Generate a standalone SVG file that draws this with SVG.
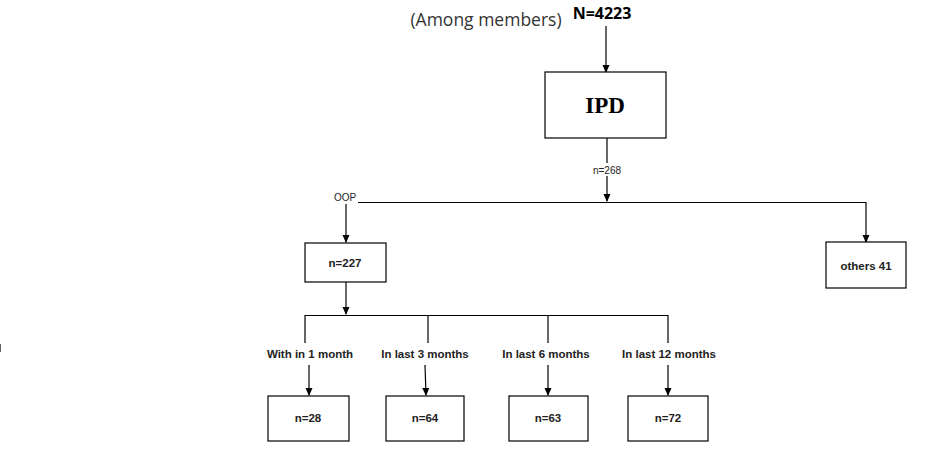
<svg xmlns="http://www.w3.org/2000/svg" width="926" height="465" viewBox="0 0 926 465">
<style>
.box{fill:#fff;stroke:#000;stroke-width:1.2}
.ln{fill:none;stroke:#000;stroke-width:1.2}
.lbl{font-family:"Liberation Sans",Arial,sans-serif;font-size:11.5px;font-weight:bold;fill:#222;text-anchor:middle;dominant-baseline:central}
.sm{font-family:"Liberation Sans",Arial,sans-serif;font-size:10px;fill:#222;text-anchor:middle;dominant-baseline:central}
</style>
<defs>
<marker id="ah" markerWidth="8" markerHeight="8" refX="7" refY="4" orient="auto" markerUnits="userSpaceOnUse">
<path d="M0,0.5 L8,4 L0,7.5 Z" fill="#000"/>
</marker>
</defs>
<rect width="926" height="465" fill="#fff"/>
<g id="title">
<text x="486" y="19" font-family="'Open Sans','Noto Sans',sans-serif" font-size="17.5" fill="#333" text-anchor="middle" dominant-baseline="central">(Among members)</text>
<text x="602" y="13" font-family="'Open Sans','Noto Sans',sans-serif" font-size="16" font-weight="bold" fill="#000" text-anchor="middle" dominant-baseline="central">N=4223</text>
</g>
<g id="connectors">
<line class="ln" x1="606" y1="26" x2="606" y2="72" marker-end="url(#ah)"/>
<line class="ln" x1="607" y1="138" x2="607" y2="201" marker-end="url(#ah)"/>
<line class="ln" x1="358" y1="202.5" x2="866" y2="202.5"/>
<line class="ln" x1="866" y1="202" x2="866" y2="242" marker-end="url(#ah)"/>
<line class="ln" x1="346" y1="204" x2="346" y2="242" marker-end="url(#ah)"/>
<line class="ln" x1="346" y1="282" x2="346" y2="314" marker-end="url(#ah)"/>
<polyline class="ln" points="305,343 305,315.5 668,315.5 668,343"/>
<line class="ln" x1="428" y1="315" x2="428" y2="343"/>
<line class="ln" x1="548" y1="315" x2="548" y2="343"/>
<line class="ln" x1="309" y1="365" x2="309" y2="395" marker-end="url(#ah)"/>
<line class="ln" x1="425" y1="365" x2="426" y2="395" marker-end="url(#ah)"/>
<line class="ln" x1="548" y1="365" x2="548" y2="395" marker-end="url(#ah)"/>
<line class="ln" x1="668" y1="365" x2="668" y2="395" marker-end="url(#ah)"/>
<rect x="588" y="163" width="38" height="13" fill="#fff"/>
<text class="sm" x="607" y="170">n=268</text>
<text class="sm" x="345" y="197">OOP</text>
<text class="lbl" x="310" y="354">With in 1 month</text>
<text class="lbl" x="425" y="354">In last 3 months</text>
<text class="lbl" x="546" y="354">In last 6 months</text>
<text class="lbl" x="669" y="354">In last 12 months</text>
</g>
<g id="ipd">
<rect class="box" x="545" y="72" width="121" height="66"/>
<text x="605" y="105" font-family="'Liberation Serif','Times New Roman',serif" font-size="23" font-weight="bold" fill="#000" text-anchor="middle" dominant-baseline="central">IPD</text>
</g>
<g id="n227">
<rect class="box" x="305" y="243" width="81" height="39"/>
<text class="lbl" x="345" y="263">n=227</text>
</g>
<g id="others">
<rect class="box" x="826" y="242" width="80" height="46"/>
<text class="lbl" x="866" y="266">others 41</text>
</g>
<g id="n28">
<rect class="box" x="268" y="396" width="81" height="45"/>
<text class="lbl" x="308" y="418">n=28</text>
</g>
<g id="n64">
<rect class="box" x="386" y="396" width="78" height="45"/>
<text class="lbl" x="425" y="418">n=64</text>
</g>
<g id="n63">
<rect class="box" x="509" y="396" width="79" height="45"/>
<text class="lbl" x="548" y="418">n=63</text>
</g>
<g id="n72">
<rect class="box" x="628" y="396" width="80" height="45"/>
<text class="lbl" x="668" y="418">n=72</text>
</g>
<line x1="0.5" y1="344" x2="0.5" y2="352" stroke="#666" stroke-width="1"/>
</svg>
